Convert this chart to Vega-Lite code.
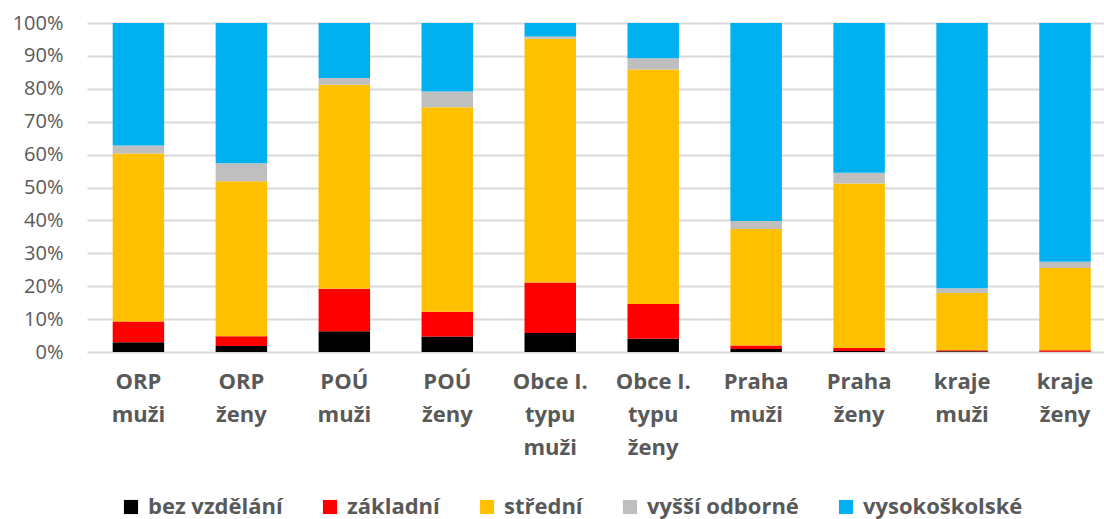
{
  "$schema": "https://vega.github.io/schema/vega-lite/v6.json",
  "width": 1017,
  "height": 329,
  "autosize": {"type": "none"},
  "padding": {"left": 87, "top": 23, "right": 0, "bottom": 167},
  "background": "white",
  "data": {
    "values": [
      {"k": "ORP|muži", "bez vzdělání": 3.0, "základní": 6.3, "střední": 51.0, "vyšší odborné": 2.5, "vysokoškolské": 37.2},
      {"k": "ORP|ženy", "bez vzdělání": 1.8, "základní": 3.0, "střední": 47.1, "vyšší odborné": 5.5, "vysokoškolské": 42.6},
      {"k": "POÚ|muži", "bez vzdělání": 6.3, "základní": 12.9, "střední": 62.0, "vyšší odborné": 2.1, "vysokoškolské": 16.7},
      {"k": "POÚ|ženy", "bez vzdělání": 4.7, "základní": 7.5, "střední": 62.2, "vyšší odborné": 4.8, "vysokoškolské": 20.8},
      {"k": "Obce I.|typu|muži", "bez vzdělání": 5.8, "základní": 15.3, "střední": 74.1, "vyšší odborné": 0.7, "vysokoškolské": 4.1},
      {"k": "Obce I.|typu|ženy", "bez vzdělání": 4.0, "základní": 10.6, "střední": 71.3, "vyšší odborné": 3.4, "vysokoškolské": 10.7},
      {"k": "Praha|muži", "bez vzdělání": 0.9, "základní": 1.1, "střední": 35.4, "vyšší odborné": 2.4, "vysokoškolské": 60.2},
      {"k": "Praha|ženy", "bez vzdělání": 0.3, "základní": 0.9, "střední": 50.0, "vyšší odborné": 3.3, "vysokoškolské": 45.5},
      {"k": "kraje|muži", "bez vzdělání": 0.2, "základní": 0.3, "střední": 17.4, "vyšší odborné": 1.5, "vysokoškolské": 80.6},
      {"k": "kraje|ženy", "bez vzdělání": 0.1, "základní": 0.4, "střední": 25.0, "vyšší odborné": 1.9, "vysokoškolské": 72.6}
    ]
  },
  "transform": [
    {"fold": ["bez vzdělání", "základní", "střední", "vyšší odborné", "vysokoškolské"], "as": ["s", "v"]},
    {"window": [{"op": "row_number", "as": "rn"}], "groupby": ["k"]}
  ],
  "mark": {"type": "bar"},
  "encoding": {
    "x": {
      "field": "k",
      "type": "nominal",
      "sort": null,
      "scale": {"paddingInner": 0.5, "paddingOuter": 0.189, "align": 0.66},
      "axis": {
        "title": null,
        "domain": false,
        "ticks": false,
        "labelAngle": 0,
        "labelExpr": "split(datum.value, '|')",
        "labelFont": "Open Sans",
        "labelFontWeight": "bold",
        "labelFontSize": 22,
        "labelColor": "#595959",
        "labelLineHeight": 33,
        "labelPadding": 19,
        "labelBaseline": "top"
      }
    },
    "y": {
      "field": "v",
      "type": "quantitative",
      "stack": "normalize",
      "scale": {"domain": [0, 1], "nice": false},
      "axis": {
        "title": null,
        "format": ".0%",
        "values": [0, 0.1, 0.2, 0.3, 0.4, 0.5, 0.6, 0.7, 0.8, 0.9, 1],
        "domain": false,
        "ticks": false,
        "grid": true,
        "gridColor": "#D9D9D9",
        "gridWidth": 2,
        "labelFont": "Open Sans",
        "labelFontSize": 20,
        "labelColor": "#595959",
        "labelPadding": 24
      }
    },
    "order": {"field": "rn", "type": "quantitative", "sort": "ascending"},
    "color": {
      "field": "s",
      "type": "nominal",
      "sort": ["bez vzdělání", "základní", "střední", "vyšší odborné", "vysokoškolské"],
      "scale": {
        "domain": ["bez vzdělání", "základní", "střední", "vyšší odborné", "vysokoškolské"],
        "range": ["#000000", "#FF0000", "#FFC000", "#BFBFBF", "#00B0F0"]
      },
      "legend": {
        "title": null,
        "orient": "none",
        "direction": "horizontal",
        "legendX": 33,
        "legendY": 473,
        "symbolType": "square",
        "symbolSize": 200,
        "symbolStrokeWidth": 0,
        "labelFont": "Open Sans",
        "labelFontWeight": "bold",
        "labelFontSize": 22,
        "labelColor": "#595959",
        "labelOffset": 6,
        "columnPadding": 36,
        "labelLimit": 300
      }
    }
  },
  "config": {"view": {"stroke": null}}
}
